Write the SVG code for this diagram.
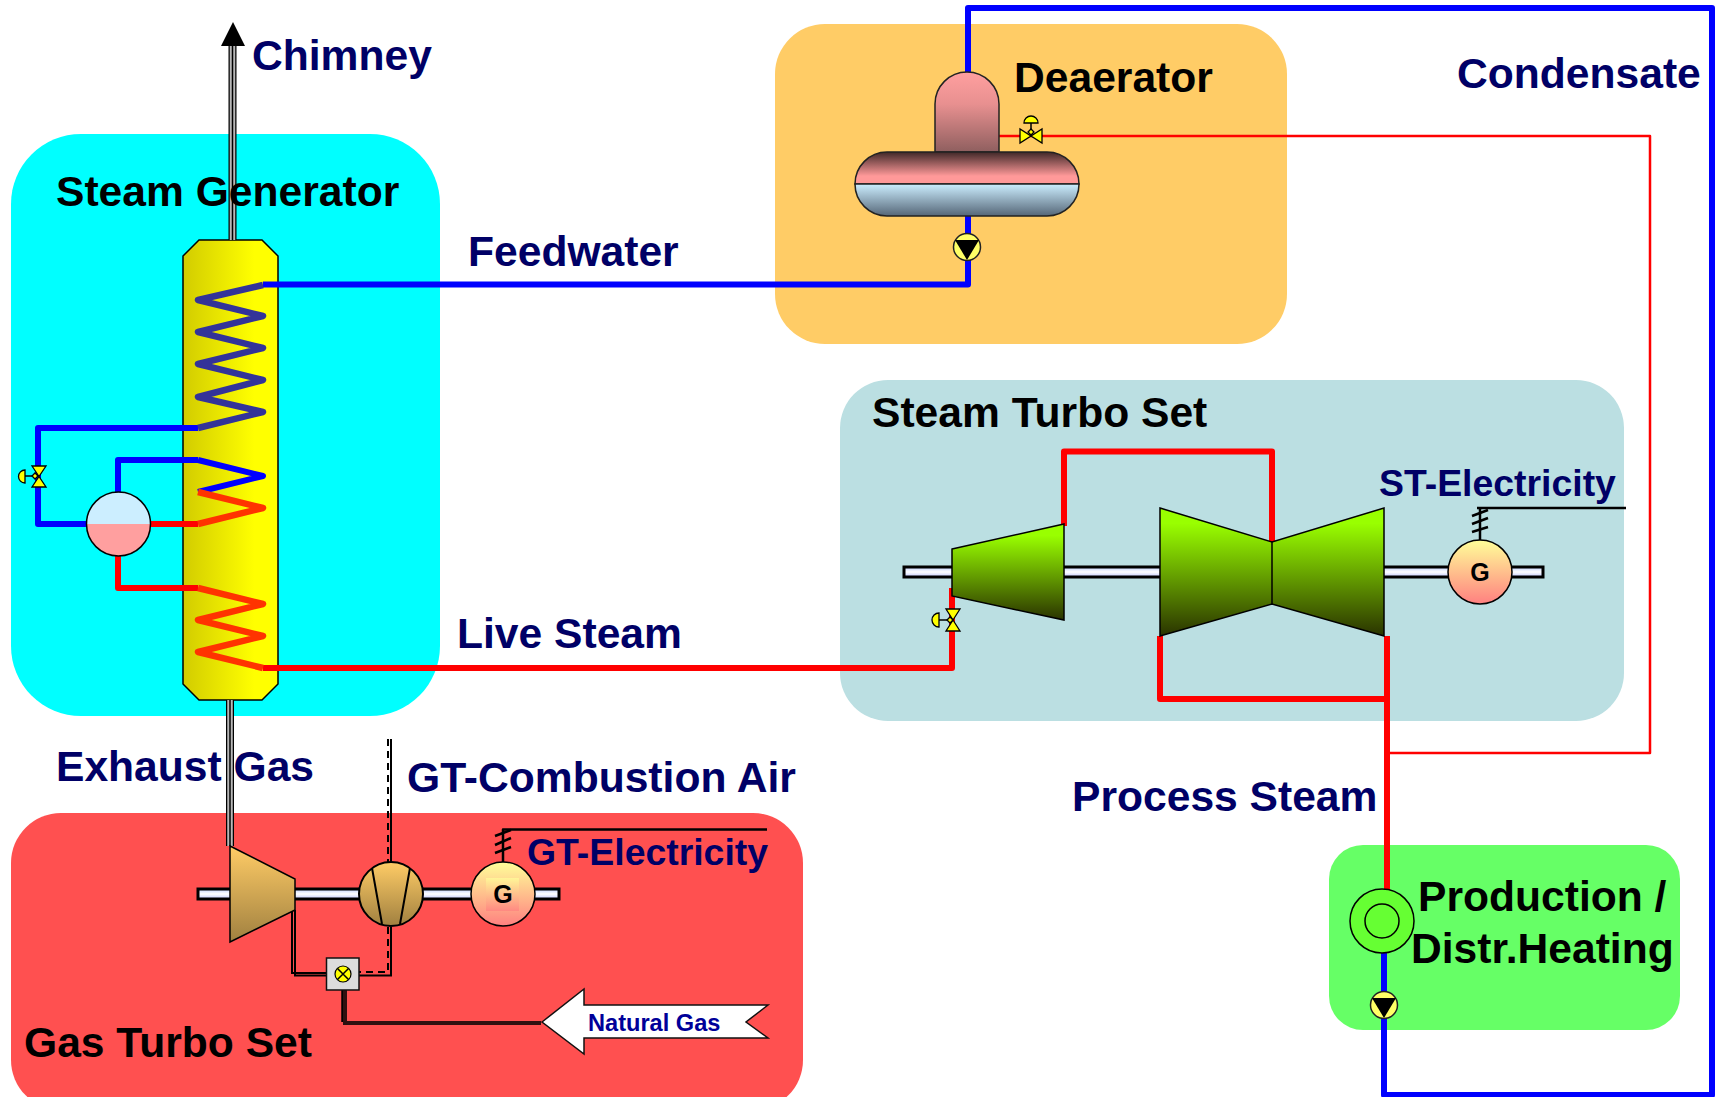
<svg xmlns="http://www.w3.org/2000/svg" width="1716" height="1097" viewBox="0 0 1716 1097">
<defs>
<linearGradient id="col"><stop offset="0" stop-color="#d2cc00"/><stop offset=".75" stop-color="#ffff00"/><stop offset="1" stop-color="#ffff00"/></linearGradient>
<linearGradient id="green" x1="0" y1="0" x2="0" y2="1"><stop offset="0" stop-color="#99ff00"/><stop offset=".12" stop-color="#99ff00"/><stop offset="1" stop-color="#2a3300"/></linearGradient>
<linearGradient id="tan" x1="0" y1="0" x2="0" y2="1"><stop offset="0" stop-color="#ffcc66"/><stop offset="1" stop-color="#a08040"/></linearGradient>
<linearGradient id="gen" x1="0" y1="0" x2="0" y2="1"><stop offset="0" stop-color="#ffff99"/><stop offset="1" stop-color="#ff8080"/></linearGradient>
<linearGradient id="shaft" x1="0" y1="0" x2="0" y2="1"><stop offset="0" stop-color="#c0d0ff"/><stop offset=".5" stop-color="#ffffff"/><stop offset="1" stop-color="#c0c8ff"/></linearGradient>
<linearGradient id="dome" x1="0" y1="0" x2="0" y2="1"><stop offset="0" stop-color="#ff9f9f"/><stop offset=".4" stop-color="#e89090"/><stop offset="1" stop-color="#8f5f5f"/></linearGradient>
<linearGradient id="steamspace" x1="0" y1="0" x2="0" y2="1"><stop offset="0" stop-color="#402828"/><stop offset=".75" stop-color="#ff9999"/><stop offset="1" stop-color="#ff9999"/></linearGradient>
<linearGradient id="water" x1="0" y1="0" x2="0" y2="1"><stop offset="0" stop-color="#cceeff"/><stop offset="1" stop-color="#556677"/></linearGradient>
<symbol id="pump" overflow="visible"><circle r="13.5" fill="#ffff66" stroke="#222" stroke-width="1.5"/><path d="M-12-7H12L0 13Z" fill="#000"/></symbol>
<symbol id="gensym" overflow="visible"><circle r="32" fill="url(#gen)" stroke="#000" stroke-width="1.5"/></symbol>
</defs>
<style>
text{font-family:"Liberation Sans",Arial,sans-serif;font-weight:700}
.t{font-size:42.6px;fill:#000}
.n{font-size:42.6px;fill:#000066}
.m{font-size:37.4px;fill:#000066}
.line{fill:none;stroke-linejoin:round}
.b{stroke:#0000ff;stroke-width:6}
.r{stroke:#ff0000;stroke-width:6}
.rt{stroke:#ff0000;stroke-width:2.5}
.c1{stroke:#333399;stroke-width:6.5}
.c2{stroke:#ff3300;stroke-width:6.5}
.k{stroke:#000;stroke-width:2.5}
.o{stroke:#000;stroke-width:1.5}
.shaft{fill:url(#shaft);stroke:#000;stroke-width:3}
.v{fill:#ffff00;stroke:#000;stroke-width:1.3}
</style>
<g id="steam-generator-area"><rect x="11" y="134" width="429" height="582" rx="70" fill="#00ffff"/></g>
<g id="deaerator-area"><rect x="775" y="24" width="512" height="320" rx="50" fill="#ffcc66"/></g>
<g id="steam-turbo-area"><rect x="840" y="380" width="784" height="341" rx="48" fill="#bbdfe2"/></g>
<g id="gas-turbo-area"><rect x="11" y="813" width="792" height="297" rx="50" fill="#ff5050"/></g>
<g id="production-area"><rect x="1329" y="845" width="351" height="185" rx="34" fill="#66ff66"/></g>

<g id="steam-generator">
<path d="M183 256L199 240H262L278 256V684L262 700H199L183 684Z" fill="url(#col)" stroke="#000" stroke-width="1.500"/>
</g>

<g id="connectors">
<g id="gas-lines" fill="none">
<path d="M232.500 240V40" stroke="#000" stroke-width="8"/><path d="M232.500 240V40" stroke="#b8b8b8" stroke-width="5.500"/><path d="M232.500 240V40" stroke="#000" stroke-width="1.500"/>
<path d="M230 846V700" stroke="#000" stroke-width="8"/><path d="M230 846V700" stroke="#b8b8b8" stroke-width="5.500"/><path d="M230 846V700" stroke="#000" stroke-width="1.500"/>
<path d="M391 739V862M391 927V975.500H359" stroke="#000" stroke-width="2"/>
<path d="M388 739V862M388 927V972H359" stroke="#000" stroke-width="2" stroke-dasharray="7 5"/>
<path d="M292 910V973H326" stroke="#000" stroke-width="2"/>
<path d="M295 910V975.500H326" stroke="#000" stroke-width="2"/>
<path d="M343 990V1022" stroke="#000" stroke-width="3.500"/><path d="M345 990V1023H541" stroke="#301010" stroke-width="4"/>
</g>
<path class="line b" d="M968 216V247"/>
<path class="line b" d="M263 284.500H968V247"/>
<path class="line b" d="M968 72V8H1712V1095H1384V1000"/>
<path class="line b" d="M1384 953V1000"/>
<path class="line b" d="M198 428H38V524H90"/>
<path class="line b" d="M118 497V460H198"/>
<path class="line r" d="M118 556V588H198"/>
<path class="line r" d="M150 524H198"/>
<path class="line r" d="M263 668H952V588"/>
<path class="line r" d="M1064 526V451.500H1272V542"/>
<path class="line r" d="M1160 636V699H1387"/>
<path class="line r" d="M1387 636V890"/>
<path class="line rt" d="M999 136H1650V753H1387"/>
<path class="line k" d="M1477 508H1626"/>
<path class="line k" d="M503 862V829.500H767"/>
<path class="line k" d="M1480 540V508"/>
<path class="line k" d="M1472 516L1488 510M1472 524L1488 518M1472 532L1488 527"/>
<path class="line k" d="M495 836L511 830M495 845L511 838M495 853L511 847"/>
</g>

<g id="steam-generator-coils">
<path class="line c1" d="M263 285L198 300L263 316L198 332L263 348L198 364L263 380L198 397L263 412L198 428"/>
<path class="line b" stroke-width="6.500" d="M198 460L263 476L198 492"/>
<path class="line c2" d="M198 492L263 508L198 524"/>
<path class="line c2" d="M198 588L263 604L198 620L263 636L198 652L263 668"/>
</g>
<g id="steam-drum">
<circle cx="118.500" cy="524" r="32" fill="#cceeff"/>
<path d="M86.500 524A32 32 0 0 0 150.500 524Z" fill="#ff9f9f"/>
<circle cx="118.500" cy="524" r="32" fill="none" stroke="#000" stroke-width="1.500"/>
</g>
<g id="sg-valve">
<path d="M32 466H46L32 487H46Z" class="v"/><path d="M25 476H36" class="o"/><path d="M35 473L38 476L35 479L32 476Z" class="v"/><path d="M25 470A6.500 6.500 0 0 0 25 483Z" class="v"/>
</g>
<g id="deaerator">
<path d="M935 152V104A32 32 0 0 1 999 104V152Z" fill="url(#dome)" stroke="#222" stroke-width="1.500"/>
<path d="M855 184A32 32 0 0 1 887 152H1047A32 32 0 0 1 1079 184Z" fill="url(#steamspace)" stroke="#222" stroke-width="1.500"/>
<path d="M855 184A32 32 0 0 0 887 216H1047A32 32 0 0 0 1079 184Z" fill="url(#water)" stroke="#222" stroke-width="1.500"/>
</g>
<g id="deaerator-valve">
<path d="M1020 129V143L1042 129V143Z" class="v"/><path d="M1031 123V131" class="o"/><path d="M1031 129L1034 132L1031 135L1028 132Z" class="v"/><path d="M1024 123A7 7 0 0 1 1038 123Z" class="v"/>
</g>
<g id="deaerator-pump"><use href="#pump" x="967" y="247"/></g>

<g id="steam-turbines">
<rect x="904" y="567" width="639" height="10" class="shaft"/>
<path d="M952 549L1064 524V620L952 596Z" fill="url(#green)" stroke="#000" stroke-width="1.500"/>
<path d="M1160 508L1272 542L1384 508V636L1272 604L1160 636Z" fill="url(#green)" stroke="#000" stroke-width="1.500"/>
<path d="M1272 542V604" stroke="#000" stroke-width="1.500"/>
</g>
<g id="steam-valve">
<path d="M946 609H960L946 631H960Z" class="v"/><path d="M939 620H950" class="o"/><path d="M950 617L953 620L950 623L947 620Z" class="v"/><path d="M939 613A7 7 0 0 0 939 627Z" class="v"/>
</g>
<g id="st-generator"><use href="#gensym" x="1480" y="572"/><text x="1480" y="581" font-size="25" text-anchor="middle">G</text></g>

<g id="gas-turbine">
<rect x="198" y="889" width="361" height="10" class="shaft"/>
<path d="M230 846L295 879V910L230 942Z" fill="url(#tan)" stroke="#000" stroke-width="1.500"/>
</g>
<g id="compressor">
<circle cx="391" cy="894" r="32" fill="url(#tan)" stroke="#000" stroke-width="2"/>
<path d="M372 868L382 924M410 868L400 924" stroke="#000" stroke-width="2" fill="none"/>
</g>
<g id="gt-generator"><use href="#gensym" x="503" y="894"/><rect x="486" y="878" width="33" height="33" fill="url(#gen)" opacity=".7"/><text x="503" y="903" font-size="25" text-anchor="middle">G</text></g>
<g id="combustor">
<rect x="326.500" y="958" width="32.500" height="32" fill="#dcdcdc" stroke="#111" stroke-width="1.500"/>
<circle cx="343" cy="974" r="8" fill="#ffff00" stroke="#000" stroke-width="1.200"/>
<path d="M337.500 968.500L348.500 979.500M348.500 968.500L337.500 979.500" stroke="#000" stroke-width="1.500"/>
</g>
<g id="natural-gas">
<path d="M542 1022L584 989V1005H768L746 1022L768 1038H584V1054Z" fill="#fff" stroke="#111" stroke-width="1.500"/>
<text x="588" y="1031" font-size="23.600" fill="#000099">Natural Gas</text>
</g>
<g id="production"><circle cx="1382" cy="921" r="32" fill="#66ff33" stroke="#000" stroke-width="1.500"/><circle cx="1382" cy="921" r="17" fill="none" stroke="#000" stroke-width="1.500"/></g>
<g id="production-pump"><use href="#pump" x="1384" y="1005"/></g>
<g id="chimney"><path d="M233 22L245 46H221Z" fill="#000"/></g>

<g id="labels">
<text class="n" x="252" y="70">Chimney</text>
<text class="t" x="56" y="206">Steam Generator</text>
<text class="n" x="468" y="266">Feedwater</text>
<text class="n" x="457" y="648">Live Steam</text>
<text class="n" x="56" y="781">Exhaust Gas</text>
<text class="n" x="407" y="792">GT-Combustion Air</text>
<text class="m" x="527" y="865">GT-Electricity</text>
<text class="t" x="24" y="1057">Gas Turbo Set</text>
<text class="t" x="1014" y="92">Deaerator</text>
<text class="n" x="1457" y="88">Condensate</text>
<text class="t" x="872" y="427">Steam Turbo Set</text>
<text class="m" x="1379" y="496">ST-Electricity</text>
<text class="n" x="1072" y="811">Process Steam</text>
<text class="t" x="1418" y="911">Production /</text>
<text class="t" x="1411" y="963">Distr.Heating</text>
</g>
</svg>
